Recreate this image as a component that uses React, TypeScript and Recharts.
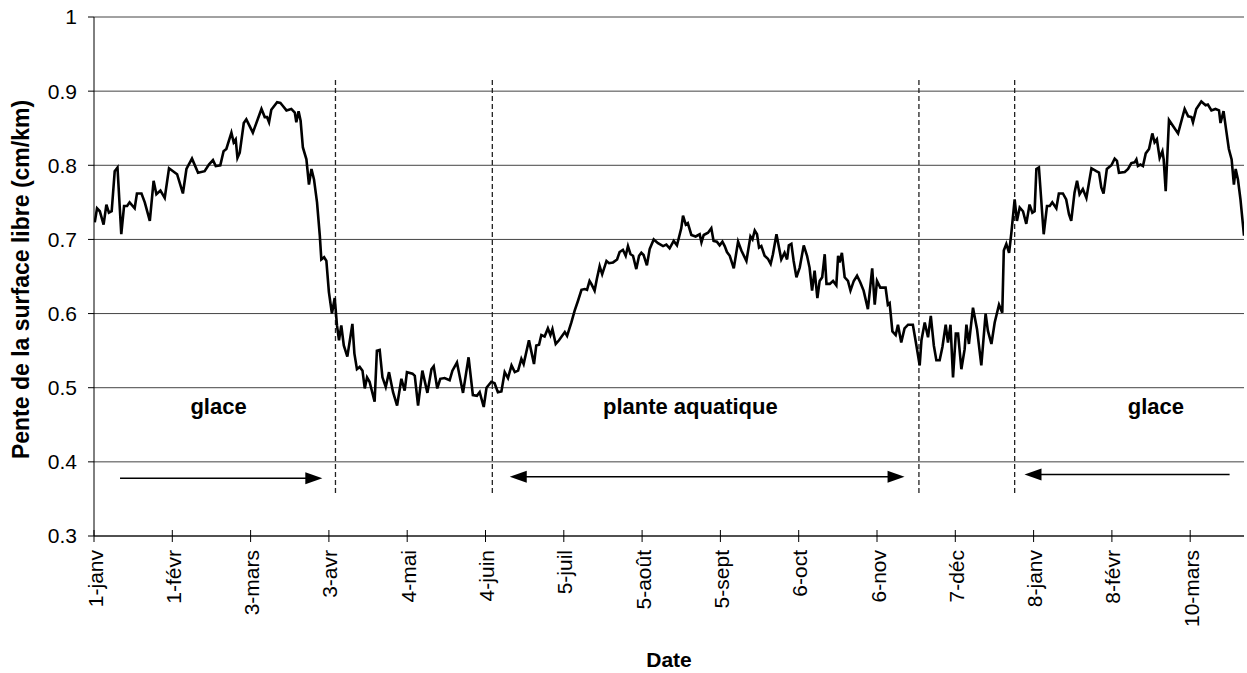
import React from 'react';
import { LineChart, Line, XAxis, YAxis, CartesianGrid, ReferenceLine, ReferenceDot } from 'recharts';

// Day index (0 = 1-janv) and free-surface slope (cm/km)
const days = [
  0.3, 1.2, 2.3, 3.8, 4.9, 5.9, 7.0, 8.2, 9.3, 10.8, 11.9, 13.1, 14.1, 16.1, 17.0, 18.8, 20.1, 22.1, 23.6, 24.7,
  26.3, 28.0, 29.7, 32.9, 35.2, 36.6, 38.8, 41.2, 43.8, 45.5, 47.1, 48.2, 50.0, 51.3, 52.4, 54.4, 55.3, 56.1, 56.8, 57.7,
  59.3, 60.3, 62.9, 66.3, 67.6, 68.5, 69.3, 70.2, 72.5, 73.8, 74.8, 76.2, 78.1, 79.5, 80.1, 81.0, 81.8, 82.7, 84.1, 85.1,
  86.1, 87.1, 88.3, 89.4, 90.0, 91.1, 92.0, 93.0, 94.2, 95.3, 96.2, 97.0, 97.9, 98.9, 100.3, 102.3, 103.1, 104.1, 105.2, 106.3,
  107.2, 108.1, 109.1, 111.1, 112.0, 113.1, 114.2, 115.5, 116.8, 118.4, 120.0, 121.7, 123.0, 123.9, 126.1, 127.0, 128.3, 130.0, 132.0, 133.6,
  134.5, 135.9, 137.1, 138.8, 140.8, 141.9, 143.7, 146.1, 148.3, 150.0, 151.6, 152.7, 154.3, 155.4, 157.3, 158.6, 159.9, 161.3, 162.6, 163.9,
  165.3, 166.6, 167.9, 169.2, 170.1, 172.2, 173.2, 174.2, 175.1, 176.2, 177.1, 178.4, 179.7, 180.7, 181.5, 182.8, 184.1, 186.4, 187.3, 189.0,
  190.3, 191.6, 193.0, 194.3, 195.2, 196.2, 196.9, 198.2, 199.1, 200.2, 201.2, 202.9, 203.9, 205.5, 207.1, 208.1, 209.4, 210.5, 211.4, 212.4,
  213.4, 214.7, 215.8, 216.7, 217.6, 218.9, 220.0, 221.6, 223.3, 225.3, 226.6, 227.9, 229.5, 230.8, 232.5, 233.2, 234.3, 235.1, 236.5, 238.2,
  239.8, 240.5, 241.4, 243.1, 244.4, 245.3, 246.6, 247.7, 248.8, 249.7, 250.6, 251.7, 253.3, 255.0, 256.3, 258.3, 259.9, 260.7, 261.6, 262.5,
  263.3, 264.2, 265.5, 266.8, 267.9, 268.8, 270.2, 271.2, 272.1, 273.4, 274.4, 275.1, 276.1, 277.0, 278.1, 279.4, 281.0, 282.3, 283.3, 284.3,
  285.3, 286.4, 287.3, 288.3, 289.3, 290.0, 291.3, 292.6, 293.9, 294.6, 295.2, 296.1, 297.2, 298.5, 299.5, 300.8, 302.1, 303.4, 304.7, 306.4,
  308.1, 309.1, 310.0, 311.3, 313.4, 314.3, 315.0, 316.1, 317.4, 318.3, 319.6, 320.9, 322.3, 324.2, 325.6, 326.9, 327.6, 328.9, 330.2, 331.3,
  332.5, 333.5, 334.8, 335.9, 337.2, 338.1, 339.1, 340.1, 341.2, 342.1, 343.4, 344.7, 345.4, 346.4, 348.0, 349.6, 351.3, 353.0, 353.9, 355.3,
  356.6, 358.3, 359.6, 360.2, 361.2, 362.3, 363.2, 364.5, 365.4, 366.5, 367.8, 369.1, 370.4, 371.5, 372.4, 373.1, 374.1, 376.0, 377.3, 378.4,
  379.4, 381.0, 382.0, 383.6, 384.9, 386.0, 386.9, 388.2, 389.2, 390.2, 391.5, 392.9, 394.9, 396.8, 397.9, 398.8, 399.7, 401.0, 402.8, 404.1,
  405.0, 405.8, 408.1, 409.4, 410.7, 412.0, 412.7, 413.3, 414.3, 415.3, 416.4, 417.7, 419.0, 419.9, 420.8, 421.9, 423.0, 423.5, 424.3, 425.6,
  427.2, 429.2, 431.8, 433.2, 434.5, 435.1, 436.4, 438.4, 440.1, 441.0, 442.4, 444.0, 445.4, 446.0, 447.2, 448.3, 449.3, 450.4, 451.3, 452.0,
  452.9, 453.9, 455.3,
];

const slope = [
  0.723, 0.742, 0.738, 0.720, 0.747, 0.736, 0.738, 0.792, 0.797, 0.707, 0.745, 0.745, 0.750, 0.742, 0.762, 0.762, 0.750, 0.725, 0.779, 0.761,
  0.766, 0.756, 0.796, 0.788, 0.762, 0.795, 0.809, 0.790, 0.792, 0.801, 0.807, 0.799, 0.800, 0.819, 0.822, 0.844, 0.831, 0.835, 0.810, 0.817,
  0.857, 0.862, 0.844, 0.876, 0.865, 0.865, 0.858, 0.875, 0.885, 0.884, 0.880, 0.874, 0.876, 0.871, 0.858, 0.873, 0.860, 0.824, 0.808, 0.774,
  0.795, 0.781, 0.750, 0.705, 0.673, 0.676, 0.671, 0.629, 0.600, 0.621, 0.584, 0.564, 0.584, 0.557, 0.542, 0.586, 0.546, 0.525, 0.528, 0.523,
  0.499, 0.514, 0.508, 0.481, 0.550, 0.551, 0.514, 0.501, 0.521, 0.494, 0.476, 0.512, 0.496, 0.521, 0.519, 0.516, 0.476, 0.523, 0.493, 0.525,
  0.529, 0.499, 0.512, 0.513, 0.510, 0.523, 0.534, 0.493, 0.541, 0.490, 0.489, 0.494, 0.474, 0.500, 0.508, 0.506, 0.494, 0.495, 0.521, 0.513,
  0.530, 0.521, 0.523, 0.539, 0.532, 0.564, 0.548, 0.532, 0.557, 0.558, 0.571, 0.569, 0.580, 0.571, 0.579, 0.559, 0.564, 0.575, 0.570, 0.588,
  0.604, 0.617, 0.632, 0.633, 0.632, 0.644, 0.640, 0.631, 0.647, 0.664, 0.653, 0.671, 0.668, 0.669, 0.673, 0.683, 0.686, 0.678, 0.691, 0.680,
  0.678, 0.660, 0.678, 0.682, 0.679, 0.665, 0.687, 0.700, 0.695, 0.691, 0.693, 0.688, 0.698, 0.692, 0.715, 0.732, 0.720, 0.722, 0.706, 0.704,
  0.707, 0.696, 0.706, 0.709, 0.715, 0.698, 0.697, 0.692, 0.697, 0.691, 0.683, 0.678, 0.661, 0.697, 0.685, 0.671, 0.704, 0.700, 0.712, 0.707,
  0.689, 0.691, 0.678, 0.674, 0.667, 0.680, 0.707, 0.689, 0.673, 0.682, 0.673, 0.692, 0.694, 0.671, 0.649, 0.662, 0.692, 0.678, 0.662, 0.631,
  0.658, 0.621, 0.644, 0.649, 0.680, 0.640, 0.640, 0.644, 0.638, 0.678, 0.669, 0.682, 0.649, 0.644, 0.631, 0.644, 0.651, 0.642, 0.631, 0.606,
  0.661, 0.612, 0.644, 0.635, 0.635, 0.612, 0.614, 0.576, 0.571, 0.585, 0.561, 0.580, 0.585, 0.585, 0.557, 0.530, 0.564, 0.588, 0.568, 0.597,
  0.557, 0.537, 0.537, 0.555, 0.585, 0.561, 0.585, 0.514, 0.573, 0.573, 0.525, 0.552, 0.585, 0.559, 0.608, 0.579, 0.530, 0.600, 0.577, 0.559,
  0.588, 0.612, 0.601, 0.685, 0.694, 0.682, 0.709, 0.754, 0.725, 0.743, 0.738, 0.721, 0.747, 0.736, 0.738, 0.795, 0.797, 0.707, 0.745, 0.745,
  0.750, 0.742, 0.762, 0.762, 0.754, 0.734, 0.725, 0.763, 0.779, 0.761, 0.768, 0.756, 0.796, 0.792, 0.790, 0.770, 0.762, 0.795, 0.800, 0.809,
  0.806, 0.790, 0.791, 0.795, 0.803, 0.804, 0.808, 0.799, 0.801, 0.799, 0.816, 0.822, 0.843, 0.831, 0.835, 0.810, 0.819, 0.808, 0.765, 0.861,
  0.853, 0.843, 0.876, 0.866, 0.865, 0.858, 0.876, 0.886, 0.881, 0.882, 0.874, 0.876, 0.874, 0.857, 0.873, 0.846, 0.822, 0.808, 0.774, 0.795,
  0.781, 0.754, 0.705,
];

const tickDays = [0, 31, 62, 93, 124, 155, 186, 217, 248, 279, 310, 341, 372, 403, 434];
const tickLabels = ['1-janv', '1-févr', '3-mars', '3-avr', '4-mai', '4-juin', '5-juil', '5-août', '5-sept', '6-oct', '6-nov', '7-déc', '8-janv', '8-févr', '10-mars'];
const yTicks = [0.3, 0.4, 0.5, 0.6, 0.7, 0.8, 0.9, 1];

const boundaryDays = [95.6, 157.7, 326.6, 364.5];
const boundaryTop = 0.915;
const boundaryBottom = 0.355;

const arrowFrom = [10.3, 164.6, 368.4];
const arrowTo = [90.4, 320.9, 449.6];
const arrowLevel = [0.378, 0.38, 0.383];
const arrowHeads = ['end', 'both', 'start'];

const zoneNames = ['glace', 'plante aquatique', 'glace'];
const zoneDays = [49.3, 236.1, 420.4];
const zoneLevel = [0.465, 0.465, 0.465];

const data = days.map((d, i) => ({ day: d, slope: slope[i] }));

const FONT = '"Liberation Sans", Arial, Helvetica, sans-serif';
const TICK_SIZE = 6;
const TICK_MARGIN = 8;

const XTick = (props: any) => {
  const { x, y, payload } = props;
  const idx = tickDays.indexOf(payload.value);
  const label = idx >= 0 ? tickLabels[idx] : '';
  const axisY = y - TICK_SIZE - TICK_MARGIN;
  return (
    <g>
      <line x1={x} x2={x} y1={axisY - 6} y2={axisY} stroke="#000" strokeWidth={1} />
      <text
        transform={`translate(${x + 1},${y}) rotate(-90)`}
        textAnchor="end"
        dominantBaseline="central"
        fontSize={21}
        fontFamily={FONT}
        fill="#000"
      >
        {label}
      </text>
    </g>
  );
};

const makeArrow = (head: string) => (p: any) => {
  const { x1, y1, x2 } = p;
  const xa = Math.min(x1, x2);
  const xb = Math.max(x1, x2);
  const L = 17;
  const H = 6;
  const left = head === 'start' || head === 'both';
  const right = head === 'end' || head === 'both';
  return (
    <g>
      <line x1={left ? xa + L - 1 : xa} x2={right ? xb - L + 1 : xb} y1={y1} y2={y1} stroke="#000" strokeWidth={1.5} />
      {right && <polygon points={`${xb},${y1} ${xb - L},${y1 - H} ${xb - L},${y1 + H}`} fill="#000" />}
      {left && <polygon points={`${xa},${y1} ${xa + L},${y1 - H} ${xa + L},${y1 + H}`} fill="#000" />}
    </g>
  );
};

const makeZoneLabel = (text: string) => (p: any) => (
  <text x={p.cx} y={p.cy} textAnchor="middle" fontSize={22} fontWeight="bold" fontFamily={FONT} fill="#000">
    {text}
  </text>
);

export default function App() {
  return (
    <div style={{ position: 'absolute', left: 0, top: 0, background: '#fff' }}>
      <LineChart
        width={1247}
        height={673}
        data={data}
        margin={{ top: 17, right: 3, left: 0, bottom: 37 }}
        style={{ fontFamily: FONT }}
      >
        <CartesianGrid horizontal vertical={false} stroke="#444" strokeWidth={1} />
        <XAxis
          dataKey="day"
          type="number"
          domain={[0, 455.3]}
          ticks={tickDays}
          interval={0}
          height={100}
          tickSize={TICK_SIZE}
          tickMargin={TICK_MARGIN}
          stroke="#000"
          axisLine={{ stroke: '#000' }}
          tickLine={{ stroke: '#000' }}
          tick={<XTick />}
          allowDataOverflow
          label={{
            content: (lp: any) => {
              const vb = lp.viewBox;
              return (
                <text x={vb.x + vb.width / 2} y={vb.y + 131} textAnchor="middle" fontSize={21} fontWeight="bold" fontFamily={FONT} fill="#000">
                  Date
                </text>
              );
            },
          }}
        />
        <YAxis
          type="number"
          domain={[0.3, 1]}
          ticks={yTicks}
          interval={0}
          width={94}
          tickSize={TICK_SIZE}
          tickMargin={11}
          axisLine={{ stroke: '#000' }}
          tickLine={{ stroke: '#000' }}
          tick={{ fontSize: 21, fill: '#000', fontFamily: FONT }}
          tickFormatter={(v: number) => (v === 1 ? '1' : v.toFixed(1))}
          allowDataOverflow
          label={{
            content: (lp: any) => {
              const vb = lp.viewBox;
              const cx = vb.x + 21;
              const cy = vb.y + vb.height / 2 + 3;
              return (
                <text
                  transform={`translate(${cx},${cy}) rotate(-90)`}
                  textAnchor="middle"
                  dominantBaseline="central"
                  fontSize={23}
                  fontWeight="bold"
                  fontFamily={FONT}
                  fill="#000"
                >
                  Pente de la surface libre (cm/km)
                </text>
              );
            },
          }}
        />
        {boundaryDays.map((d, i) => (
          <ReferenceLine
            key={`b${i}`}
            segment={[{ x: d, y: boundaryTop }, { x: d, y: boundaryBottom }]}
            stroke="#222"
            strokeWidth={1.3}
            strokeDasharray="5 3"
            ifOverflow="visible"
          />
        ))}
        {arrowFrom.map((f, i) => (
          <ReferenceLine
            key={`a${i}`}
            segment={[{ x: f, y: arrowLevel[i] }, { x: arrowTo[i], y: arrowLevel[i] }]}
            shape={makeArrow(arrowHeads[i])}
            ifOverflow="visible"
          />
        ))}
        {zoneNames.map((n, i) => (
          <ReferenceDot
            key={`z${i}`}
            x={zoneDays[i]}
            y={zoneLevel[i]}
            r={0}
            shape={makeZoneLabel(n)}
            ifOverflow="visible"
          />
        ))}
        <Line
          type="linear"
          dataKey="slope"
          stroke="#000"
          strokeWidth={2.6}
          dot={false}
          activeDot={false}
          isAnimationActive={false}
        />
      </LineChart>
    </div>
  );
}
